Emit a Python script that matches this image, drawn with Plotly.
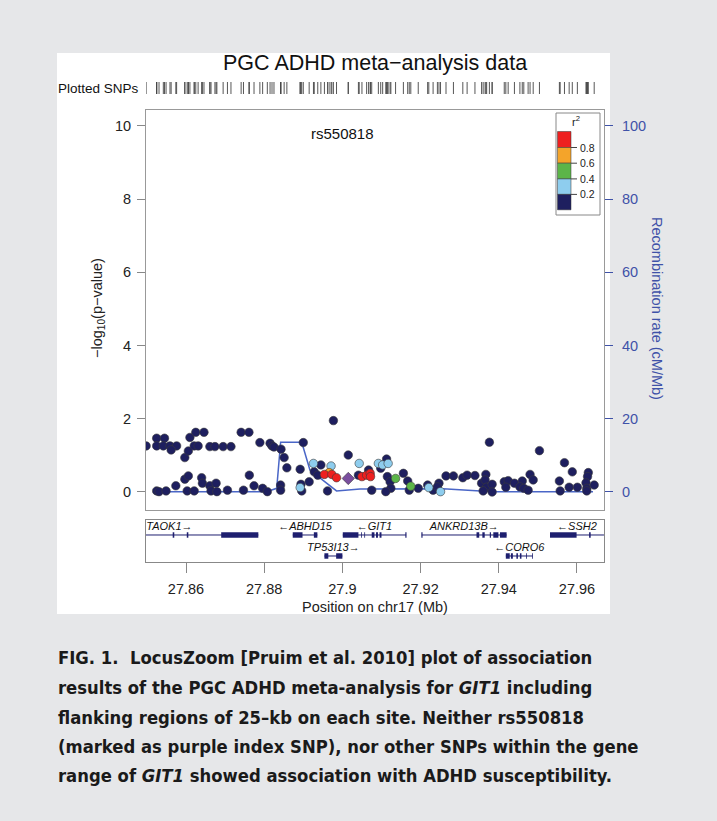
import plotly.graph_objects as go

W, H = 717, 821
def fx(px): return px / W
def fy(py): return 1 - py / H

# ---------------- data ----------------
navy_pos = [27.8498, 27.8525, 27.8545, 27.8525, 27.8542, 27.8559, 27.8576, 27.8562, 27.8597, 27.8606,
            27.8610, 27.8625, 27.8646, 27.8621, 27.8631, 27.8661, 27.8674, 27.8695, 27.8715, 27.8741,
            27.8761, 27.8789, 27.8815, 27.8820, 27.8825, 27.8843, 27.8851, 27.8858, 27.8900,
            27.8525, 27.8531, 27.8549, 27.8574, 27.8597, 27.8606, 27.8603, 27.8621, 27.8640, 27.8642,
            27.8661, 27.8677, 27.8664, 27.8679, 27.8706, 27.8747, 27.8762, 27.8774, 27.8796, 27.8808,
            27.8842, 27.8842, 27.8892, 27.8894, 27.8896, 27.8915, 27.8928, 27.8937, 27.8945, 27.8962,
            27.8977, 27.9015, 27.9041, 27.9067, 27.9075, 27.9113, 27.9098, 27.9115, 27.9122, 27.9124,
            27.9111, 27.9156, 27.9167, 27.9171, 27.9194, 27.9218, 27.9232, 27.9247, 27.9243, 27.9265,
            27.9284, 27.9308, 27.9319, 27.9339, 27.9356, 27.9367, 27.9365, 27.9369, 27.9360, 27.9376,
            27.9383, 27.9383, 27.9414, 27.9424, 27.9418, 27.9440, 27.9460, 27.9454, 27.9464, 27.9475,
            27.9480, 27.9488, 27.9504, 27.9555, 27.9557, 27.9580, 27.9601, 27.9568, 27.9588, 27.9629,
            27.9627, 27.9623, 27.9625, 27.9625, 27.9644]
navy_logp = [1.26, 1.47, 1.47, 1.26, 1.26, 1.26, 1.26, 1.15, 0.94, 1.12,
             1.49, 1.63, 1.63, 1.26, 1.26, 1.24, 1.24, 1.24, 1.24, 1.63,
             1.63, 1.35, 1.33, 1.26, 1.23, 1.17, 0.94, 0.66, 1.35,
             0.03, 0.01, 0.03, 0.17, 0.35, 0.44, 0.03, 0.03, 0.39, 0.24,
             0.17, 0.24, 0.03, 0.01, 0.05, 0.05, 0.46, 0.17, 0.10, 0.01,
             0.19, 0.05, 0.62, 0.21, 0.03, 0.28, 0.55, 0.46, 0.74, 0.03,
             1.95, 1.01, 0.46, 0.60, 0.05, 0.90, 0.65, 0.42, 0.28, 0.10,
             0.01, 0.51, 0.30, 0.05, 0.10, 0.19, 0.05, 0.24, 0.14, 0.44,
             0.44, 0.39, 0.46, 0.45, 0.24, 0.48, 0.33, 0.13, 0.03, 1.36,
             0.21, 0.00, 0.28, 0.31, 0.13, 0.24, 0.30, 0.14, 0.10, 0.05,
             0.48, 0.33, 1.13, 0.30, 0.03, 0.13, 0.13, 0.80, 0.55, 0.53,
             0.42, 0.25, 0.10, 0.03, 0.19]
lightblue_pos = [27.8892, 27.8926, 27.8971, 27.9043, 27.9092, 27.9103, 27.9117, 27.9221, 27.9251]
lightblue_logp = [0.12, 0.78, 0.71, 0.78, 0.78, 0.74, 0.78, 0.12, 0.01]
green_pos = [27.9136, 27.9175]
green_logp = [0.37, 0.16]
orange_pos = [27.8966]
orange_logp = [0.53]
red_pos = [27.8954, 27.8973, 27.8985, 27.9050, 27.9062, 27.9071, 27.9072]
red_logp = [0.48, 0.48, 0.39, 0.42, 0.46, 0.51, 0.42]
index_snp = "rs550818"
index_pos = [27.9015]
index_logp = [0.37]

recomb_pos = [27.8525, 27.8806, 27.8832, 27.8842, 27.8896, 27.8917, 27.8985, 27.9045, 27.9257, 27.9385, 27.9641]
recomb_rate = [0.1, 0.1, 1.0, 13.6, 13.6, 6.0, 0.3, 0.8, 0.9, 0.1, 0.1]

gene_names = ["TAOK1", "ABHD15", "GIT1", "ANKRD13B", "SSH2", "TP53I13", "CORO6"]
gene_strand = ["+", "-", "-", "+", "-", "+", "-"]
gene_start = [27.8000, 27.8873, 27.9001, 27.9203, 27.9531, 27.8954, 27.9418]
gene_end = [27.8785, 27.8936, 27.9163, 27.9420, 27.9669, 27.9000, 27.9487]
gene_row = [1, 1, 1, 1, 1, 2, 2]
gene_exons = [
    [(27.8566, 27.8570), (27.8602, 27.8606), (27.8690, 27.8785)],
    [(27.8873, 27.8898), (27.8927, 27.8936)],
    [(27.9001, 27.9041), (27.9048, 27.9050), (27.9056, 27.9058), (27.9075, 27.9082),
     (27.9086, 27.9091), (27.9095, 27.9100), (27.9161, 27.9164)],
    [(27.9202, 27.9205), (27.9343, 27.9350), (27.9358, 27.9364), (27.9377, 27.9380),
     (27.9386, 27.9399), (27.9403, 27.9420)],
    [(27.9531, 27.9599), (27.9631, 27.9635)],
    [(27.8954, 27.8964), (27.8984, 27.9000)],
    [(27.9418, 27.9428), (27.9431, 27.9436), (27.9445, 27.9449), (27.9454, 27.9458),
     (27.9470, 27.9472), (27.9485, 27.9487)],
]

x_ticks = [27.86, 27.88, 27.90, 27.92, 27.94, 27.96]
x_tick_labels = ["27.86", "27.88", "27.9", "27.92", "27.94", "27.96"]
logp_ticks = [0, 2, 4, 6, 8, 10]
recomb_ticks = [0, 20, 40, 60, 80, 100]
r2_labels = ["0.8", "0.6", "0.4", "0.2"]

NAVY = "#1e1f5f"
LBLUE = "#8ecdee"
GREEN = "#5cb548"
ORANGE = "#f4a42a"
RED = "#ee2020"
PURPLE = "#7a4e9e"
r2_colors = [RED, ORANGE, GREEN, LBLUE, NAVY]
RBLUE = "#3f52a8"
LINEBLUE = "#4a66c7"
FONT = "Liberation Sans, Arial, sans-serif"

X_RANGE = [27.84977, 27.96691]

fig = go.Figure()

# recombination line (rate axis y, right)
fig.add_trace(go.Scatter(x=recomb_pos, y=recomb_rate, mode="lines", xaxis="x", yaxis="y",
                         line=dict(color=LINEBLUE, width=1.5), hoverinfo="skip", showlegend=False))

# SNPs (logp axis y2, left)
for xs, ys, col in [(navy_pos, navy_logp, NAVY), (lightblue_pos, lightblue_logp, LBLUE),
                    (green_pos, green_logp, GREEN), (orange_pos, orange_logp, ORANGE),
                    (red_pos, red_logp, RED)]:
    fig.add_trace(go.Scatter(x=xs, y=ys, mode="markers", xaxis="x", yaxis="y2", showlegend=False,
                             marker=dict(color=col, size=8.5, line=dict(color="#3a3a3a", width=0.6))))
fig.add_trace(go.Scatter(x=index_pos, y=index_logp, mode="markers", xaxis="x", yaxis="y2", showlegend=False,
                         marker=dict(color=PURPLE, size=9.5, symbol="diamond",
                                     line=dict(color="#3a3a3a", width=0.6))))

# plotted SNPs rug
all_pos = navy_pos + lightblue_pos + green_pos + orange_pos + red_pos + index_pos
fig.add_trace(go.Scatter(x=all_pos, y=[0.5] * len(all_pos), mode="markers", xaxis="x", yaxis="y4",
                         showlegend=False, hoverinfo="skip",
                         marker=dict(symbol="line-ns", size=10, line=dict(color="#444", width=0.9))))

# gene track
ROW_LINE = {1: 0.643, 2: 0.143}
ROW_LABEL = {1: 0.83, 2: 0.33}
gx, gy = [], []
for s, e, r in zip(gene_start, gene_end, gene_row):
    gx += [s, e, None]
    gy += [ROW_LINE[r], ROW_LINE[r], None]
fig.add_trace(go.Scatter(x=gx, y=gy, mode="lines", xaxis="x2", yaxis="y3", showlegend=False,
                         hoverinfo="skip", line=dict(color="#1e1f6f", width=1)))
lab_x, lab_y, lab_t = [], [], []
for n, st, s, e, r in zip(gene_names, gene_strand, gene_start, gene_end, gene_row):
    mid = (s + e) / 2
    mid = min(max(mid, X_RANGE[0] + 0.0060), X_RANGE[1] - 0.0060)
    lab_x.append(mid)
    lab_y.append(ROW_LABEL[r])
    lab_t.append("<i>" + (n + "\u2192" if st == "+" else "\u2190" + n) + "</i>")
fig.add_trace(go.Scatter(x=lab_x, y=lab_y, mode="text", text=lab_t, xaxis="x2", yaxis="y3",
                         showlegend=False, hoverinfo="skip",
                         textfont=dict(family=FONT, size=11, color="#111")))

shapes = []
# white panel
shapes.append(dict(type="rect", xref="paper", yref="paper", x0=fx(57), x1=fx(610), y0=fy(614), y1=fy(53),
                   fillcolor="white", line=dict(width=0), layer="below"))
for exons, r in zip(gene_exons, gene_row):
    for s, e in exons:
        shapes.append(dict(type="rect", xref="x2", yref="y3", x0=s, x1=e,
                           y0=ROW_LINE[r] - 0.065, y1=ROW_LINE[r] + 0.065,
                           fillcolor="#1e1f6f", line=dict(width=0)))

# r2 legend
shapes.append(dict(type="rect", xref="paper", yref="paper", x0=fx(556), x1=fx(600), y0=fy(215), y1=fy(113),
                   fillcolor="white", line=dict(color="#888", width=1)))
bounds = [131.5, 147.5, 163.2, 178.9, 194.4, 209.8]
for i, col in enumerate(r2_colors):
    shapes.append(dict(type="rect", xref="paper", yref="paper", x0=fx(557.5), x1=fx(571),
                       y0=fy(bounds[i + 1]), y1=fy(bounds[i]), fillcolor=col, line=dict(color="#333", width=0.5)))
annotations = []
for i, lab in enumerate(r2_labels):
    yb = bounds[i + 1]
    shapes.append(dict(type="line", xref="paper", yref="paper", x0=fx(571), x1=fx(577), y0=fy(yb), y1=fy(yb),
                       line=dict(color="#444", width=1)))
    annotations.append(dict(x=fx(578), y=fy(yb), xref="paper", yref="paper", text=lab, showarrow=False,
                            xanchor="left", yanchor="middle", font=dict(family=FONT, size=10.5, color="#222")))
annotations.append(dict(x=fx(576), y=fy(121), xref="paper", yref="paper", text="r<sup>2</sup>", showarrow=False,
                        xanchor="center", yanchor="middle", font=dict(family=FONT, size=11, color="#222")))

# titles / labels
annotations += [
    dict(x=fx(375), y=fy(63), xref="paper", yref="paper", text="PGC ADHD meta\u2212analysis data",
         showarrow=False, xanchor="center", yanchor="middle", font=dict(family=FONT, size=21.5, color="#111")),
    dict(x=fx(56), y=fy(88), xref="paper", yref="paper", text="Plotted SNPs",
         showarrow=False, xanchor="left", yanchor="middle", font=dict(family=FONT, size=13.5, color="#111")),
    dict(x=fx(98), y=fy(308), xref="paper", yref="paper", text="\u2212log<sub>10</sub>(p\u2212value)",
         showarrow=False, textangle=-90, xanchor="center", yanchor="middle",
         font=dict(family=FONT, size=14.5, color="#222")),
    dict(x=fx(657), y=fy(308), xref="paper", yref="paper", text="Recombination rate (cM/Mb)",
         showarrow=False, textangle=90, xanchor="center", yanchor="middle",
         font=dict(family=FONT, size=14.5, color=RBLUE)),
    dict(x=fx(375), y=fy(607), xref="paper", yref="paper", text="Position on chr17 (Mb)",
         showarrow=False, xanchor="center", yanchor="middle", font=dict(family=FONT, size=14.5, color="#222")),
    dict(x=index_pos[0], y=9.8, xref="x", yref="y2", text=index_snp, showarrow=False, xshift=-6,
         xanchor="center", yanchor="middle", font=dict(family=FONT, size=15, color="#111")),
]

caption_lines = [
    "FIG. 1.  LocusZoom [Pruim et al. 2010] plot of association",
    "results of the PGC ADHD meta-analysis for <i>GIT1</i> including",
    "flanking regions of 25\u2013kb on each site. Neither rs550818",
    "(marked as purple index SNP), nor other SNPs within the gene",
    "range of <i>GIT1</i> showed association with ADHD susceptibility.",
]
cap_y = [657, 687, 717, 746, 775]
for t, yy in zip(caption_lines, cap_y):
    annotations.append(dict(x=fx(56), y=fy(yy), xref="paper", yref="paper", text="<b>" + t + "</b>",
                            showarrow=False, xanchor="left", yanchor="middle",
                            font=dict(family="DejaVu Sans Condensed, Liberation Sans Narrow, sans-serif",
                                      size=18.3, color="#1a1a1a")))

fig.update_layout(
    width=W, height=H, margin=dict(l=0, r=0, t=0, b=0),
    paper_bgcolor="#e6e7e9", plot_bgcolor="white", showlegend=False,
    xaxis=dict(domain=[fx(146), fx(604)], range=X_RANGE, anchor="y", showticklabels=False, ticks="",
               showgrid=False, zeroline=False, showline=True, mirror=True, linecolor="#999", linewidth=1),
    yaxis=dict(domain=[fy(510), fy(110)], range=[-4.92, 104.37], side="right", anchor="x",
               tickvals=recomb_ticks, ticks="outside", ticklen=8, tickcolor=RBLUE,
               tickfont=dict(family=FONT, size=14.5, color=RBLUE), ticklabelstandoff=6,
               showgrid=False, zeroline=False, showline=True, mirror=True, linecolor="#999", linewidth=1),
    yaxis2=dict(overlaying="y", side="left", anchor="x", range=[-0.492, 10.437],
                tickvals=logp_ticks, ticks="outside", ticklen=8, tickcolor="#888",
                tickfont=dict(family=FONT, size=14.5, color="#222"), ticklabelstandoff=3,
                showgrid=False, zeroline=False, showline=True, linecolor="#999", linewidth=1),
    xaxis2=dict(domain=[fx(146), fx(604)], range=X_RANGE, anchor="y3", matches="x",
                tickvals=x_ticks, ticktext=x_tick_labels, ticks="outside", ticklen=10, tickcolor="#888",
                tickfont=dict(family=FONT, size=14.5, color="#222"), ticklabelstandoff=4,
                showgrid=False, zeroline=False, showline=True, mirror=True, linecolor="#888", linewidth=1),
    yaxis3=dict(domain=[fy(562), fy(520)], range=[0, 1], anchor="x2", showticklabels=False, ticks="",
                showgrid=False, zeroline=False, showline=True, mirror=True, linecolor="#888", linewidth=1),
    yaxis4=dict(domain=[fy(94), fy(82)], range=[0, 1], anchor="x", visible=False),
    shapes=shapes, annotations=annotations,
)

fig.write_html("out.html", config={"displayModeBar": False},
               post_script="document.body.style.margin='0';document.body.style.background='#e6e7e9';")
